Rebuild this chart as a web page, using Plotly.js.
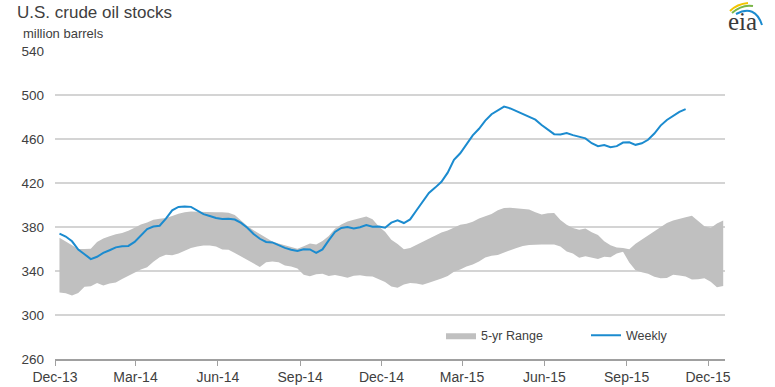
<!DOCTYPE html>
<html>
<head>
<meta charset="utf-8">
<script src="https://cdn.plot.ly/plotly-3.0.1.min.js"></script>
<style>
  html, body { margin: 0; padding: 0; background: #ffffff; }
  #chart { width: 775px; height: 387px; }
</style>
</head>
<body>
<div id="chart"></div>
<script>
// ---- data ----
const firstWeek = '2013-12-06';          // first weekly observation (Friday)
const weeklyStocks = [
  374, 371.3, 367, 359.5, 355.3, 350.8, 352.9, 356.5, 358.9, 361.5,
  362.4, 362.8, 366.5, 372.4, 378.2, 380.5, 381.2, 387.6, 395.1, 398.2,
  398.6, 398.3, 394.7, 391.7, 390, 388.2, 387.3, 387.6, 386.8, 383.7,
  379.3, 373.6, 369.3, 366.4, 366, 363.5, 361, 359.3, 358.3, 359.7,
  359.6, 356.5, 359.6, 367.9, 375.5, 379.1, 379.9, 378.6, 379.8, 381.8,
  380.3, 380.4, 379.4, 384, 386, 383.6, 386.9, 395, 403.5, 411,
  415.8, 421.1, 429.4, 441, 447, 455, 463.3, 469.3, 476.7, 482.5,
  486.1, 489.5, 487.8, 485.2, 483, 480.2, 477.6, 472.7, 468.5, 464.4,
  464.1, 465.5, 463.5, 461.9, 460.6, 456.2, 453.5, 454.6, 452.6, 453.5,
  456.8, 457, 454.7, 456.1, 459.3, 465, 472.2, 477.3, 480.8, 484.7,
  487.2
];
const rangeHigh = [
  370.2, 366.6, 363, 360, 360, 360.3, 366.3, 369.5, 371.6, 373.5,
  374.6, 376.5, 379.4, 382.2, 384.2, 386.5, 387.4, 388.1, 389.9, 392,
  393.3, 394.2, 393.8, 393.5, 393.3, 393.4, 393.4, 393, 390.8, 385.5,
  380.8, 377, 373.7, 370.2, 366.9, 365, 363.5, 362.1, 360.3, 362.5,
  365.1, 364.1, 367.3, 371.9, 378.3, 382.2, 385, 386.6, 388.2, 389.5,
  387, 380.5, 375.7, 368.5, 364.6, 359.8, 360.9, 363.8, 366.6, 369.4,
  372.3, 374.9, 376.8, 379.5, 382, 383, 384.8, 387.7, 389.7, 391.9,
  395.3, 397.3, 397.6, 397, 396.8, 395.9, 393.5, 391.3, 392.5, 392.7,
  386.4, 382, 379, 377.6, 378.7, 375.2, 372.7, 367, 363.4, 361.4,
  360.8, 359.7, 364.8, 368.6, 372.4, 376.6, 380.3, 383.7, 385.9, 387.1,
  388.8, 390.3, 385.5, 380.7, 379, 383.2, 386
];
const rangeLow = [
  320.4, 319.7, 317.8, 319.9, 325.6, 326.1, 329, 326.9, 328.7, 329.6,
  332.8, 335.9, 338.5, 341.4, 343.3, 348.5, 352.5, 354.7, 354.4, 356,
  358.4, 361, 362.3, 363.1, 363.2, 362.2, 359.6, 359.3, 356.4, 353.2,
  350.2, 347.3, 343.7, 348, 348.7, 348, 345.1, 344.2, 342.3, 336.6,
  335.2, 337.1, 337.5, 335.4, 336.3, 335.3, 333.8, 335.6, 336.2, 335.2,
  335.1, 332.4, 330, 325.8, 324.7, 327.8, 329, 328.6, 327.6, 329.4,
  331.1, 333.2, 335.5, 339.4, 341.3, 344.1, 346, 348.6, 352.3, 353.8,
  354.5, 356.9, 358.9, 360.8, 362.8, 363.6, 364, 364, 364, 364,
  362.2, 357.8, 355.8, 352, 353.4, 352.5, 351, 352.9, 352.5, 356,
  357.5, 347.8, 340.7, 338.9, 337.6, 334.8, 333.3, 333.6, 336.6, 335.9,
  334.9, 332.2, 332.4, 333.5, 330.2, 325.2, 326.4
];
const seriesNames = ['5-yr Range', 'Weekly'];
const titleText = 'U.S. crude oil stocks';
const unitText = 'million barrels';
const logoText = 'eia';

// weekly dates (one per observation)
function weekDates(n) {
  const out = [];
  const d0 = new Date(firstWeek + 'T00:00:00Z');
  for (let i = 0; i < n; i++) {
    const d = new Date(d0.getTime() + i * 7 * 86400000);
    out.push(d.toISOString().slice(0, 10));
  }
  return out;
}
const bandDates = weekDates(rangeHigh.length);
const lineDates = weekDates(weeklyStocks.length);

const FONT = '"Liberation Sans", Arial, Helvetica, sans-serif';
const TXT = '#404040';

const traces = [
  { x: bandDates, y: rangeLow, type: 'scatter', mode: 'lines',
    line: { width: 0, color: 'rgba(0,0,0,0)' }, showlegend: false, hoverinfo: 'skip' },
  { x: bandDates, y: rangeHigh, type: 'scatter', mode: 'lines', fill: 'tonexty',
    fillcolor: '#c0c0c0', line: { width: 0, color: 'rgba(0,0,0,0)' },
    name: seriesNames[0] },
  { x: lineDates, y: weeklyStocks, type: 'scatter', mode: 'lines',
    line: { width: 2, color: '#1b8bcf' }, name: seriesNames[1] }
];

const L = 55, R = 50, T = 51, B = 28;
const PW = 775 - L - R, PH = 387 - T - B;
const px2x = p => (p - L) / PW;
const px2y = p => (387 - B - p) / PH;

const layout = {
  width: 775, height: 387,
  margin: { l: L, r: R, t: T, b: B, pad: 0 },
  paper_bgcolor: '#ffffff', plot_bgcolor: '#ffffff',
  font: { family: FONT, color: TXT },
  title: { text: titleText, font: { family: FONT, size: 17, color: TXT },
    xref: 'container', yref: 'container', x: 17 / 775, xanchor: 'left',
    y: 1 - 12 / 387, yanchor: 'middle' },
  showlegend: true,
  legend: { orientation: 'h', x: px2x(441), xanchor: 'left', y: px2y(335.7), yanchor: 'middle',
    font: { family: FONT, size: 12.5, color: TXT }, bgcolor: 'rgba(0,0,0,0)',
    itemwidth: 30, entrywidth: 100, traceorder: 'normal' },
  xaxis: { type: 'date', range: ['2013-12-01', '2015-12-20'],
    tick0: '2013-12-01', dtick: 'M3', tickformat: '%b-%y',
    ticks: 'outside', ticklen: 5, tickcolor: '#a0a0a0', tickwidth: 1,
    showline: true, linecolor: '#a0a0a0', linewidth: 1.5,
    showgrid: false, zeroline: false,
    tickfont: { family: FONT, size: 14, color: TXT } },
  yaxis: { range: [260, 540], tick0: 260, dtick: 40,
    showgrid: true, gridcolor: '#d4d4d4', gridwidth: 1.2,
    zeroline: false, showline: false, ticks: '', ticklabelstandoff: 10,
    tickfont: { family: FONT, size: 13.5, color: TXT } },
  annotations: [
    { text: unitText, xref: 'paper', yref: 'paper', x: px2x(20.5), y: px2y(33.5),
      xanchor: 'left', yanchor: 'middle', showarrow: false,
      font: { family: FONT, size: 13, color: TXT } },
    { text: logoText, xref: 'paper', yref: 'paper', x: px2x(742.5), y: px2y(21),
      xanchor: 'center', yanchor: 'middle', showarrow: false,
      font: { family: '"Liberation Serif", "DejaVu Serif", serif', size: 25, color: '#3a3a3a' } }
  ],
  shapes: [
    { type: 'path', xref: 'paper', yref: 'paper', xsizemode: 'pixel', ysizemode: 'pixel',
      xanchor: px2x(745), yanchor: px2y(16), path: 'M -15,5 Q -8,12 3,13',
      line: { color: '#f2c500', width: 2 } },
    { type: 'path', xref: 'paper', yref: 'paper', xsizemode: 'pixel', ysizemode: 'pixel',
      xanchor: px2x(745), yanchor: px2y(16), path: 'M -13,3 Q -3,12 8,10',
      line: { color: '#7ab648', width: 2 } },
    { type: 'path', xref: 'paper', yref: 'paper', xsizemode: 'pixel', ysizemode: 'pixel',
      xanchor: px2x(745), yanchor: px2y(16), path: 'M -9,2 Q 10,12 17,-9',
      line: { color: '#1b8bcf', width: 2 } }
  ]
};

Plotly.newPlot('chart', traces, layout, { staticPlot: true, displayModeBar: false });
</script>
</body>
</html>
